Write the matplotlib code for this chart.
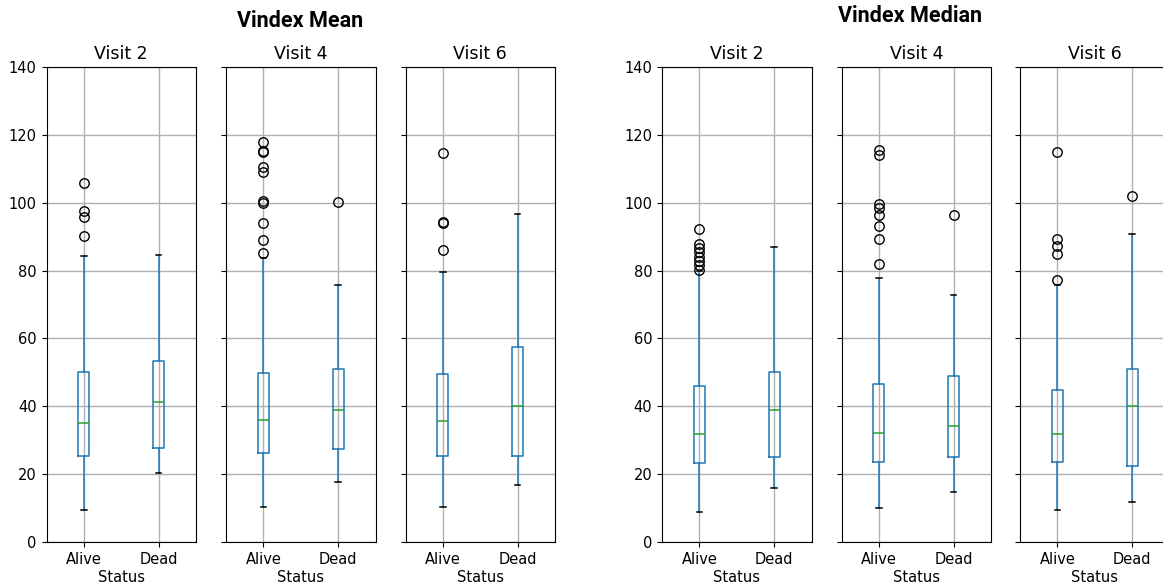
import matplotlib.pyplot as plt

visits = ['Visit 2', 'Visit 4', 'Visit 6']
statuses = ['Alive', 'Dead']

# per visit: [Alive, Dead]
mean_q1 = [[25.4, 27.7], [26.2, 27.4], [25.4, 25.4]]
mean_med = [[35.2, 41.3], [36.0, 38.8], [35.6, 40.0]]
mean_q3 = [[50.0, 53.4], [49.7, 50.9], [49.4, 57.5]]
mean_lo = [[9.3, 20.4], [10.4, 17.7], [10.3, 16.7]]
mean_hi = [[84.2, 84.5], [83.6, 75.8], [79.7, 96.8]]
mean_fliers = [
    [[105.7, 97.7, 95.9, 90.2], []],
    [[117.9, 115.3, 115.0, 110.6, 109.0, 100.4, 100.0, 94.0, 88.9, 85.1], [100.2]],
    [[114.8, 94.3, 94.0, 86.0], []],
]

median_q1 = [[23.3, 25.0], [23.6, 25.0], [23.5, 22.4]]
median_med = [[31.7, 38.8], [32.1, 34.1], [31.7, 40.2]]
median_q3 = [[45.9, 50.1], [46.6, 48.8], [44.8, 50.9]]
median_lo = [[8.7, 16.0], [10.1, 14.8], [9.3, 11.9]]
median_hi = [[79.9, 87.0], [77.9, 72.8], [75.8, 90.8]]
median_fliers = [
    [[92.4, 87.8, 86.6, 85.4, 84.1, 82.9, 81.6, 80.3], []],
    [[115.6, 114.1, 99.6, 98.4, 96.5, 93.1, 89.3, 81.9], [96.5]],
    [[114.9, 89.3, 87.1, 84.9, 77.1], [102.1]],
]

W, H = 1163, 587
ax_bottom, ax_top = 542, 67
panel_w = 149.5
groups = [
    ('Vindex Mean', [46.5, 226, 405.5], (300, 21),
     mean_q1, mean_med, mean_q3, mean_lo, mean_hi, mean_fliers),
    ('Vindex Median', [662, 841.5, 1020], (909.5, 16),
     median_q1, median_med, median_q3, median_lo, median_hi, median_fliers),
]

fig = plt.figure(figsize=(W / 100, H / 100), dpi=100)

for title, lefts, (tx, ty), q1, med, q3, lo, hi, fl in groups:
    for i, visit in enumerate(visits):
        ax = fig.add_axes([lefts[i] / W, 1 - ax_bottom / H,
                           panel_w / W, (ax_bottom - ax_top) / H])
        stats = []
        for j, s in enumerate(statuses):
            stats.append(dict(label=s, q1=q1[i][j], med=med[i][j], q3=q3[i][j],
                              whislo=lo[i][j], whishi=hi[i][j], fliers=fl[i][j]))
        ax.bxp(stats, positions=[1, 2], widths=0.15,
               boxprops=dict(color='#1f77b4', linewidth=1.1),
               whiskerprops=dict(color='#1f77b4', linewidth=1.1),
               capprops=dict(color='black', linewidth=1.1),
               medianprops=dict(color='#2ca02c', linewidth=1.1),
               flierprops=dict(marker='o', markerfacecolor='none',
                               markeredgecolor='black', markersize=6.8,
                               markeredgewidth=1.0))
        ax.set_xlim(0.5, 2.5)
        ax.set_ylim(0, 140)
        ax.set_yticks(range(0, 141, 20))
        ax.grid(True, color='#b0b0b0', linewidth=1.0)
        ax.set_axisbelow(True)
        ax.set_title(visit, fontsize=12.5)
        ax.set_xlabel('Status', fontsize=10.5, labelpad=2)
        ax.tick_params(labelsize=10.5)
        if i > 0:
            ax.tick_params(labelleft=False)
    fig.text(tx / W, 1 - ty / H, title, ha='center', va='center',
             fontsize=15.5, fontweight='bold', family=['Roboto', 'DejaVu Sans'])

fig.savefig('out.png', dpi=100)
